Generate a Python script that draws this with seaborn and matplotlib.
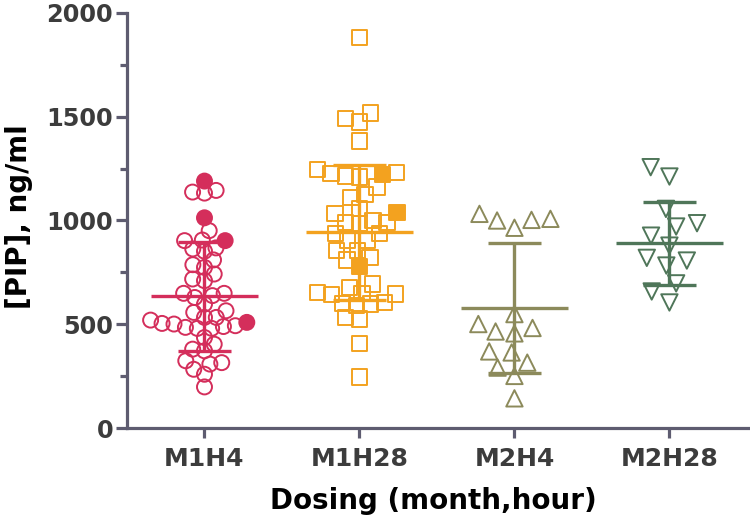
import numpy as np
import pandas as pd
import matplotlib
matplotlib.use("Agg")
import matplotlib.pyplot as plt
from matplotlib.ticker import MultipleLocator
import seaborn as sns

# ---------------- data ----------------
categories = ["M1H4", "M1H28", "M2H4", "M2H28"]

m1h4_open = [1145, 1137, 1132, 951, 906, 903, 852, 868, 863, 810, 787, 774,
             718, 742, 710, 649, 638, 649, 629, 597, 565, 557, 533, 520, 504,
             493, 485, 480, 480, 489, 501, 533, 404, 372, 380, 436, 315, 283,
             324, 259, 308, 198]
m1h4_solid = [1190, 1013, 903, 509]

m1h28_open = [1882, 1491, 1518, 1475, 1383, 1246, 1225, 1214, 1209, 1230,
              1161, 1124, 1112, 1035, 1059, 989, 987, 992, 1000, 903, 936,
              936, 855, 810, 823, 855, 903, 694, 653, 642, 649, 646, 678, 605,
              589, 525, 533, 597, 600, 407, 246]
m1h28_solid = [1222, 1040, 779]

m2h4_open = [1008, 1000, 965, 1003, 1032, 549, 482, 456, 465, 501, 369, 315,
             364, 291, 251, 143]
m2h4_solid = []

m2h28_open = [1212, 1257, 1056, 987, 971, 927, 879, 807, 783, 820, 697, 658,
              605]
m2h28_solid = []

means = [635, 943, 578, 890]
sds = [262, 325, 314, 200]

yticks = [0, 500, 1000, 1500, 2000]

# ---------------- style ----------------
colors = ["#D42E5B", "#F3A21F", "#8C8A5B", "#4F7659"]
markers = ["o", "s", "^", "v"]
display_sizes = [10.8, 11.0, 11.8, 11.8]
layout_sizes = [8.2, 9.8, 13.0, 14.5]
axis_color = "#5E5C70"
tick_label_color = "#3C3C3C"

sns.set_theme(style="ticks")
plt.rcParams["font.family"] = ["DejaVu Sans"]

fig, ax = plt.subplots(figsize=(7.5, 5.24), dpi=100)
fig.subplots_adjust(left=127 / 750, right=1.0, bottom=96 / 524, top=511 / 524)

groups = [(m1h4_open, m1h4_solid), (m1h28_open, m1h28_solid),
          (m2h4_open, m2h4_solid), (m2h28_open, m2h28_solid)]

swarms = []
for i, cat in enumerate(categories):
    op, so = groups[i]
    vals = list(op) + list(so)
    filled = [False] * len(op) + [True] * len(so)
    df = pd.DataFrame({"group": [cat] * len(vals), "value": vals})
    n_before = len(ax.collections)
    sns.swarmplot(data=df, x="group", y="value", order=categories,
                  color=colors[i], marker=markers[i], size=layout_sizes[i],
                  linewidth=0, ax=ax, warn_thresh=1, zorder=3)
    new = [c for c in ax.collections[n_before:] if len(c.get_offsets()) > 0]
    swarms.append((new[0], i, filled))

ax.set_xlim(-0.5, 3.52)
ax.set_ylim(0, 2000)

# compute the swarm layout, then freeze it and restyle the markers
fig.canvas.draw()
for coll, i, filled in swarms:
    if "draw" in coll.__dict__:
        del coll.draw
    n = len(filled)
    fc = [colors[i] if f else (1, 1, 1, 0) for f in filled]
    coll.set_facecolors(fc)
    coll.set_edgecolors([colors[i]] * n)
    coll.set_linewidths([1.4] * n)
    coll.set_sizes([display_sizes[i] ** 2] * n)

# mean +- SD
for i in range(len(categories)):
    ax.hlines(means[i], i - 0.345, i + 0.345, color=colors[i], lw=2.4, zorder=5)
    ax.vlines(i, means[i] - sds[i], means[i] + sds[i], color=colors[i], lw=2.4, zorder=5)
    ax.hlines([means[i] - sds[i], means[i] + sds[i]], i - 0.172, i + 0.172,
              color=colors[i], lw=2.4, zorder=5)

# axes styling
ax.set_yticks(yticks)
ax.yaxis.set_minor_locator(MultipleLocator(250))
for s in ["top", "right"]:
    ax.spines[s].set_visible(False)
for s in ["left", "bottom"]:
    ax.spines[s].set_color(axis_color)
    ax.spines[s].set_linewidth(2.3)

ax.tick_params(axis="y", which="major", length=8, width=2.3, color=axis_color,
               labelsize=17.3, labelcolor=tick_label_color, pad=2)
ax.tick_params(axis="y", which="minor", length=5, width=2.3, color=axis_color)
ax.tick_params(axis="x", which="major", length=7, width=2.3, color=axis_color,
               labelsize=18, labelcolor=tick_label_color, pad=7)
for lab in ax.get_yticklabels() + ax.get_xticklabels():
    lab.set_fontweight("bold")

ax.set_xlabel("Dosing (month,hour)", fontsize=20, fontweight="bold", color="black")
ax.set_ylabel("[PIP], ng/ml", fontsize=20, fontweight="bold", color="black")
ax.xaxis.label.set_va("center")
ax.yaxis.label.set_va("center")
ax.xaxis.set_label_coords((433 - 127) / 623, (427 - 500) / 415)
ax.yaxis.set_label_coords((19 - 127) / 623, (427 - 216) / 415)

fig.savefig("out.png", dpi=100)
